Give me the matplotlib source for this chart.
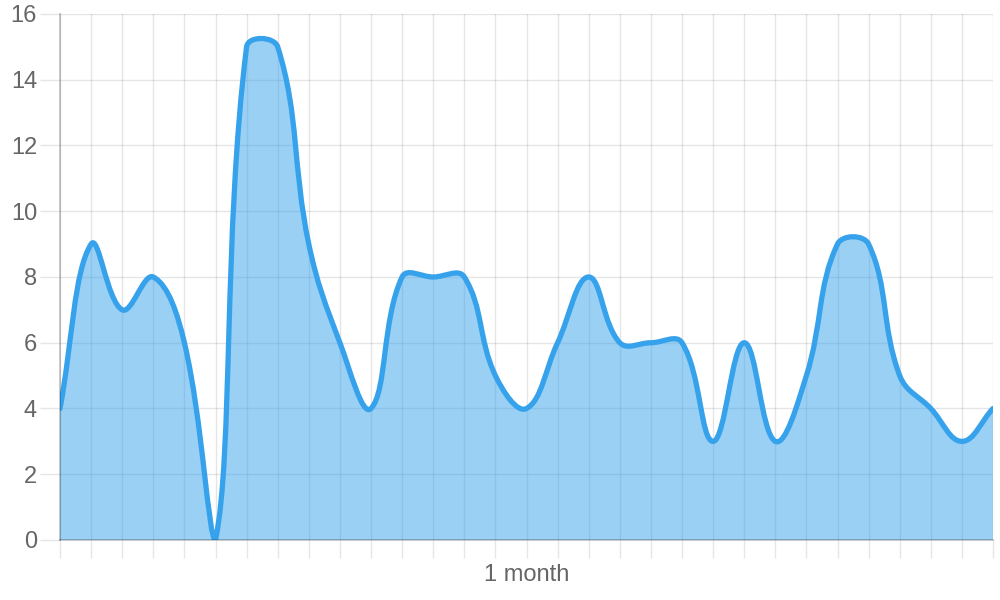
import numpy as np
import matplotlib.pyplot as plt
from matplotlib.path import Path
from matplotlib.patches import PathPatch

plt.rcParams['font.family'] = ['Liberation Sans', 'DejaVu Sans']

# wartosci
values = [4, 9, 7, 8, 6, 0, 15, 15, 9, 6, 4, 8, 8, 8, 5, 4,
          6, 8, 6, 6, 6, 3, 6, 3, 5, 9, 9, 5, 4, 3, 4]
y_ticks = list(range(0, 17, 2))
x_title = '1 month'

line_color = '#36a2eb'
axis_color = (0, 0, 0, 0.25)
text_color = '#666666'

fig = plt.figure(figsize=(10, 6), dpi=100)
ax = fig.add_axes([0.06, 0.1, 0.933, 0.8767])
x = np.arange(len(values))
ax.set_xlim(0, len(values) - 1)
ax.set_ylim(0, 16)

# krzywa jak w Chart.js (tension 0.4), liczona w pikselach
pts = ax.transData.transform(np.column_stack([x, values]))
tension = 0.4
n = len(pts)
cp_prev = np.zeros_like(pts)
cp_next = np.zeros_like(pts)
for i in range(n):
    prev = pts[max(i - 1, 0)]
    cur = pts[i]
    nxt = pts[min(i + 1, n - 1)]
    d01 = np.hypot(*(cur - prev))
    d12 = np.hypot(*(nxt - cur))
    tot = d01 + d12
    s01 = d01 / tot if tot else 0
    s12 = d12 / tot if tot else 0
    cp_prev[i] = cur - tension * s01 * (nxt - prev)
    cp_next[i] = cur + tension * s12 * (nxt - prev)
inv = ax.transData.inverted()
cp_prev = inv.transform(cp_prev)
cp_next = inv.transform(cp_next)
for cp in (cp_prev, cp_next):
    cp[:, 0] = np.clip(cp[:, 0], 0, len(values) - 1)
    cp[:, 1] = np.clip(cp[:, 1], 0, 16)

verts = [(x[0], values[0])]
codes = [Path.MOVETO]
for i in range(1, n):
    verts += [tuple(cp_next[i - 1]), tuple(cp_prev[i]), (x[i], values[i])]
    codes += [Path.CURVE4] * 3

fill_verts = verts + [(x[-1], 0), (x[0], 0), (x[0], values[0])]
fill_codes = codes + [Path.LINETO, Path.LINETO, Path.CLOSEPOLY]
ax.add_patch(PathPatch(Path(fill_verts, fill_codes), facecolor=line_color,
                       alpha=0.5, edgecolor='none', zorder=2))
ax.add_patch(PathPatch(Path(verts, codes), facecolor='none', edgecolor=line_color,
                       lw=3.8, capstyle='round', joinstyle='round', zorder=3))

ax.set_xticks(x)
ax.set_xticklabels([])
ax.set_yticks(y_ticks)
ax.set_yticklabels([str(v) for v in y_ticks], fontsize=17, color=text_color)
ax.grid(True, color='black', alpha=0.1, lw=1)
ax.set_axisbelow(True)
ax.tick_params(axis='x', length=13, color='#e6e6e6', width=1)
ax.tick_params(axis='y', length=14.5, color='#e6e6e6', width=1, pad=2)
for s in ['top', 'right']:
    ax.spines[s].set_visible(False)
for s in ['left', 'bottom']:
    ax.spines[s].set_color(axis_color)
    ax.spines[s].set_linewidth(1.2)
    ax.spines[s].set_zorder(4)
ax.set_xlabel(x_title, fontsize=17, color=text_color, labelpad=1)

plt.savefig('out.png', dpi=100)
